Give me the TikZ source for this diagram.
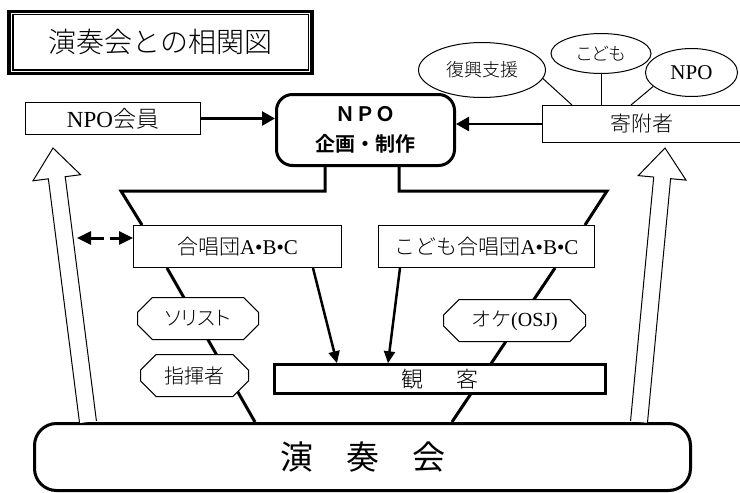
\documentclass[tikz,border=0pt]{standalone}
\usepackage{fontspec}
\setmainfont{Noto Sans CJK JP}[UprightFont=* Light, BoldFont=* Bold]
\newfontfamily\lat{Liberation Serif}
\newfontfamily\jpp{Noto Sans CJK JP}[UprightFont=* Light, RawFeature=+palt]
\newfontfamily\jpm{Noto Sans CJK JP}
\usetikzlibrary{positioning, shapes.geometric, shapes.misc, arrows.meta, calc}
\tikzstyle{titlebox} = [rectangle, draw=black, line width=3.5pt, minimum width=303pt, minimum height=62pt, text centered, font=\fontsize{28pt}{30pt}\selectfont]
\tikzstyle{box} = [rectangle, draw=black, fill=white, line width=1pt, text centered, font=\fontsize{21pt}{24pt}\selectfont]
\tikzstyle{core} = [rectangle, rounded corners=16pt, draw=black, line width=3pt, text centered]
\tikzstyle{bubble} = [ellipse, draw=black, line width=1pt, inner sep=0pt, text centered, font=\fontsize{18pt}{20pt}\selectfont]
\tikzstyle{role} = [chamfered rectangle, chamfered rectangle xsep=12pt, draw=black, fill=white, line width=1pt, text centered, font=\fontsize{20pt}{22pt}\selectfont]
\tikzstyle{arrow} = [line width=2.5pt, -{Triangle[length=13pt,width=14pt]}]
\tikzstyle{downarrow} = [line width=2.5pt, -{Triangle[length=12pt,width=11pt]}]
\tikzstyle{dasharrow} = [line width=3pt, dash pattern=on 14pt off 6pt, {Triangle[length=14pt,width=13pt]}-{Triangle[length=14pt,width=13pt]}]
\tikzstyle{link} = [line width=3pt]
\tikzstyle{tie} = [line width=1pt]
\tikzstyle{hollow} = [line width=1pt, fill=white, line join=miter]
\newcommand{\hollowarrow}[2]{%
  \coordinate (hb) at ($(#2)!30pt!(#1)$);
  \draw [hollow] ($(#1)!8.5pt!-90:(#2)$) -- ($(hb)!8.5pt!90:(#1)$) -- ($(hb)!24pt!90:(#1)$) -- (#2)
    -- ($(hb)!24pt!-90:(#1)$) -- ($(hb)!8.5pt!-90:(#1)$) -- ($(#1)!8.5pt!90:(#2)$);
}
\begin{document}
\begin{tikzpicture}[x=1pt, y=-1pt]
\useasboundingbox (0,0) rectangle (740,493);

%Nodes
\node (title) [titlebox] at (160.7,42.3) {演奏会との相関図};
\draw [line width=1.5pt] ([shift={(5.3pt,-5pt)}]title.north west) rectangle ([shift={(-5.3pt,5pt)}]title.south east);
\node (member) [box, minimum width=175pt, minimum height=32pt, font=\fontsize{23pt}{26pt}\selectfont] at (113,118.5) {{\lat NPO}会員};
\node (npo) [core, minimum width=178pt, minimum height=71pt, align=center, font=\bfseries\fontsize{20pt}{30pt}\selectfont] at (365.5,130) {ＮＰＯ\\企画・制作};
\node (donor) [box, minimum width=199pt, minimum height=37pt] at (642,124) {寄附者};
\node (fukko) [bubble, minimum width=127pt, minimum height=55pt] at (482,70) {復興支援};
\node (kodomo) [bubble, minimum width=100pt, minimum height=40pt] at (601,53.5) {\jpp こども};
\node (npoe) [bubble, minimum width=92pt, minimum height=48pt, font=\fontsize{21pt}{24pt}\selectfont] at (691.5,72.5) {{\lat NPO}};
\node (choir) [box, minimum width=208pt, minimum height=42pt] at (237.5,246.5) {合唱団{\lat A•B•C}};
\node (kids) [box, minimum width=216pt, minimum height=42pt, right=36pt of choir] {こども合唱団{\lat A•B•C}};
\node (show) [core, rounded corners=22pt, minimum width=656pt, minimum height=67pt, font=\jpm\fontsize{33pt}{36pt}\selectfont] at (362.5,457) {演　奏　会};

\coordinate (bendL) at (121,191);
\coordinate (bendR) at (607,191);
\coordinate (dashL) at (77,238);
\coordinate (baseL) at ([xshift=-274.5pt]show.north);
\coordinate (tipL) at ([xshift=-60pt,yshift=-13pt]member.south);
\coordinate (baseR) at ([xshift=276.5pt]show.north);
\coordinate (tipR) at ([xshift=23pt,yshift=-5pt]donor.south);

%Lines
\draw [tie] (fukko.-8) -- ([xshift=-70pt]donor.north);
\draw [tie] (kodomo.south) -- (kodomo.south |- donor.north);
\draw [tie] (npoe.-160) -- ([xshift=-11pt]donor.north);
\draw [link] ([xshift=-40.5pt]npo.south) |- (bendL) -- ([xshift=9pt]choir.north west);
\draw [link] ([xshift=33.5pt]npo.south) |- (bendR) -- ([xshift=-10pt]kids.north east);
\draw [link] ([xshift=-70.5pt]choir.south) -- ([xshift=-107.5pt]show.north);
\draw [link] ([xshift=68.5pt]kids.south) -- ([xshift=89.5pt]show.north);

%Roles and audience (on top of the lines)
\node (soloist) [role, minimum width=121pt, minimum height=42pt] at (198,318.5) {\jpp ソリスト};
\node (conductor) [role, minimum width=108pt, minimum height=42pt] at (194.5,375.5) {指揮者};
\node (orch) [role, minimum width=142pt, minimum height=42pt] at (514.5,320.5) {オケ{\lat (OSJ)}};
\node (audience) [box, line width=2.5pt, minimum width=331pt, minimum height=29pt, font=\fontsize{22pt}{24pt}\selectfont] at (440,379) {観\hspace{1.5em}客};

%Arrows
\draw [arrow] (member.east) -- (member.east -| npo.west);
\draw [arrow] (donor.west) -- (donor.west -| npo.east);
\draw [downarrow] ([xshift=75.5pt]choir.south) -- ([xshift=-103pt]audience.north);
\draw [downarrow] ([xshift=-86.5pt]kids.south) -- ([xshift=-52pt]audience.north);
\draw [dasharrow] (dashL) -- (dashL -| choir.west);
\hollowarrow{baseL}{tipL}
\hollowarrow{baseR}{tipR}

\end{tikzpicture}
\end{document}
